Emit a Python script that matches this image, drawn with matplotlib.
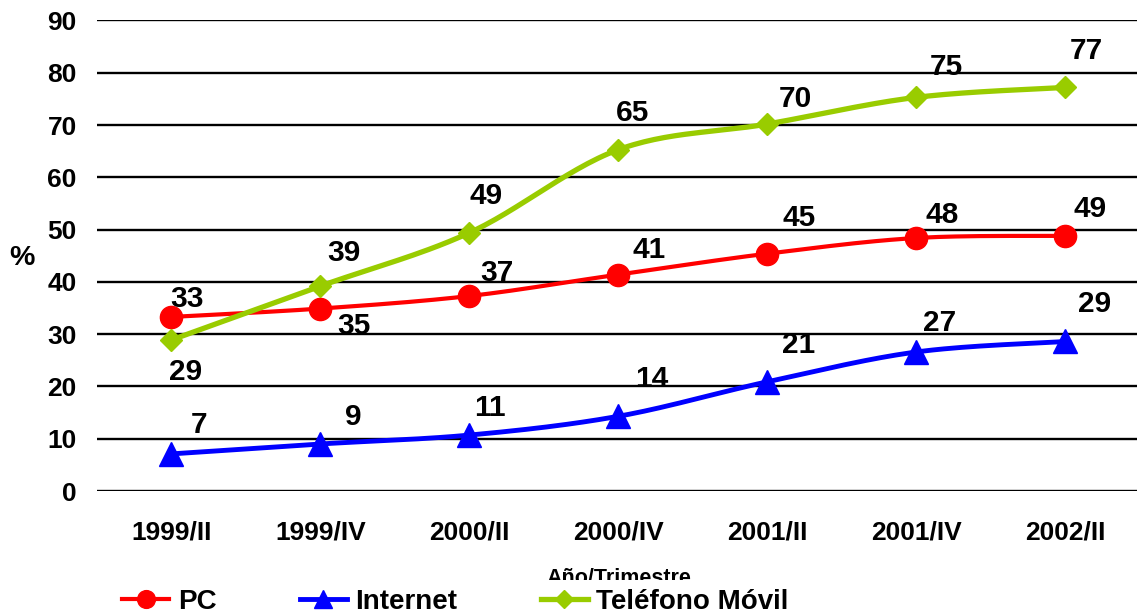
import numpy as np
import matplotlib
matplotlib.use("Agg")
import matplotlib.pyplot as plt
from matplotlib.lines import Line2D

# datos
periodos = ["1999/II", "1999/IV", "2000/II", "2000/IV", "2001/II", "2001/IV", "2002/II"]
pc = [33.3, 34.9, 37.3, 41.4, 45.4, 48.4, 48.8]
internet = [7.1, 9.0, 10.7, 14.3, 20.9, 26.6, 28.6]
movil = [28.9, 39.2, 49.4, 65.3, 70.2, 75.3, 77.2]

plt.rcParams["font.family"] = ["Liberation Sans", "DejaVu Sans"]
plt.rcParams["font.weight"] = "bold"


def suavizar(x, y, n=30):
    # curva tipo Excel (bezier / catmull-rom)
    p = np.column_stack([x, y]).astype(float)
    p = np.vstack([p[0], p, p[-1]])
    out = []
    for i in range(1, len(p) - 2):
        p0, p1, p2, p3 = p[i - 1], p[i], p[i + 1], p[i + 2]
        c1 = p1 + (p2 - p0) / 6
        c2 = p2 - (p3 - p1) / 6
        t = np.linspace(0, 1, n)[:, None]
        seg = ((1 - t) ** 3) * p1 + 3 * ((1 - t) ** 2) * t * c1 + 3 * (1 - t) * t ** 2 * c2 + t ** 3 * p2
        out.append(seg)
    out = np.vstack(out)
    return out[:, 0], out[:, 1]


fig = plt.figure(figsize=(11.37, 6.15), dpi=100)
ax = fig.add_axes([0.0853, 0.2016, 0.9173, 0.7651])

x = np.arange(len(periodos))

series = [
    ("PC", pc, "#FF0000", "o", 16, 3.0,
     [(16, 18), (33, -17), (27, 23), (31, 25), (32, 36), (26, 23), (25, 27)]),
    ("Internet", internet, "#0000FF", "^", 17, 3.5,
     [(28, 29), (33, 27), (20, 27), (33, 37), (31, 37), (23, 29), (29, 37)]),
    ("Teléfono Móvil", movil, "#99CC00", "D", 11.5, 3.8,
     [(14, -32), (23, 33), (17, 37), (14, 37), (28, 25), (30, 30), (21, 36)]),
]

handles = []
for nombre, vals, color, mk, ms, lw, offs in series:
    xs, ys = suavizar(x, vals)
    ax.plot(xs, ys, color=color, lw=lw, zorder=3, solid_capstyle="round")
    ax.plot(x, vals, ls="none", marker=mk, ms=ms, color=color, zorder=4)
    for xi, v, (dx, dy) in zip(x, vals, offs):
        ax.annotate(f"{v:.0f}", (xi, v), xytext=(dx, dy), textcoords="offset pixels",
                    ha="center", va="center", fontsize=21.5, fontweight="bold", zorder=5)
    handles.append(Line2D([], [], color=color, lw=lw, marker=mk, ms=ms * 0.8, label=nombre))

ax.set_xlim(-0.5, 6.5)
ax.set_ylim(0, 90)
ax.set_yticks(range(0, 91, 10))
ax.set_xticks(x)
ax.set_xticklabels(periodos)
ax.grid(axis="y", color="black", lw=1.7)
ax.set_axisbelow(True)
for s in ax.spines.values():
    s.set_visible(False)
ax.tick_params(axis="both", length=0, labelsize=19)
ax.tick_params(axis="y", pad=14.5)
ax.tick_params(axis="x", pad=21)
for lab in ax.get_xticklabels() + ax.get_yticklabels():
    lab.set_fontweight("bold")

fig.text(0.0195, 0.58, "%", fontsize=20.5, fontweight="bold", ha="center", va="center")
ax.set_xlabel("Año/Trimestre", fontsize=15.5, fontweight="bold", labelpad=17)

# la leyenda tapa la parte baja del título del eje, como en el original
leg = fig.legend(handles=handles, loc="lower left", bbox_to_anchor=(0.087, -0.038), ncol=3,
                 frameon=True, fontsize=20, handlelength=1.7, handletextpad=0.3,
                 columnspacing=3.0, borderpad=0.34)
leg.get_frame().set_facecolor("white")
leg.get_frame().set_edgecolor("none")
leg.get_frame().set_alpha(1)
leg.set_zorder(10)
for t in leg.get_texts():
    t.set_fontweight("bold")

fig.savefig("out.png", dpi=100)
